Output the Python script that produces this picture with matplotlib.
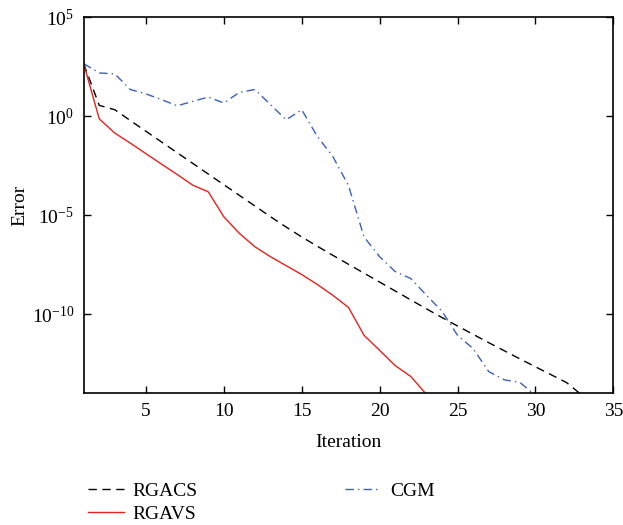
import numpy as np
import matplotlib
matplotlib.use("Agg")
import matplotlib.pyplot as plt
from matplotlib.ticker import FixedLocator, NullLocator

plt.rcParams['font.family'] = ['Liberation Serif', 'DejaVu Serif']
plt.rcParams['mathtext.fontset'] = 'custom'
plt.rcParams['mathtext.rm'] = 'Liberation Serif'
plt.rcParams['mathtext.it'] = 'Liberation Serif:italic'

# log10 of error per iteration
rgacs_iter = list(range(1, 34))
rgacs_log = [2.66, 0.55, 0.33, -0.22, -0.76, -1.30, -1.84, -2.38, -2.92, -3.46,
             -4.00, -4.54, -5.08, -5.60, -6.10, -6.57, -7.03, -7.48, -7.93, -8.38,
             -8.83, -9.28, -9.73, -10.17, -10.60, -11.02, -11.44, -11.85, -12.26,
             -12.66, -13.06, -13.46, -14.10]

rgavs_iter = list(range(1, 24))
rgavs_log = [2.66, -0.13, -0.85, -1.36, -1.89, -2.42, -2.94, -3.48, -3.82, -5.08,
             -5.92, -6.60, -7.10, -7.55, -8.00, -8.50, -9.05, -9.66, -11.07, -11.83,
             -12.60, -13.15, -14.05]

cgm_iter = list(range(1, 31))
cgm_log = [2.66, 2.19, 2.14, 1.35, 1.13, 0.84, 0.53, 0.75, 0.97, 0.67,
           1.21, 1.35, 0.58, -0.18, 0.33, -1.02, -2.04, -3.50, -6.10, -7.10,
           -7.85, -8.20, -9.04, -9.85, -11.07, -11.74, -12.90, -13.32, -13.45, -14.10]

labels = ['RGACS', 'RGAVS', 'CGM']
yticks = [1e5, 1e0, 1e-5, 1e-10]
xticks = [5, 10, 15, 20, 25, 30, 35]

fig = plt.figure(figsize=(6.23, 5.25), dpi=100)
ax = fig.add_axes([0.1343, 0.2509, 0.8501, 0.7161])

ax.plot(rgacs_iter, 10.0 ** np.array(rgacs_log), color='black', ls=(0, (6, 4)),
        lw=1.0, label=labels[0])
ax.plot(rgavs_iter, 10.0 ** np.array(rgavs_log), color='#e8201c', ls='-',
        lw=1.0, label=labels[1])
ax.plot(cgm_iter, 10.0 ** np.array(cgm_log), color='#3b5fbf', ls=(0, (6, 3, 1, 3)),
        lw=1.0, label=labels[2])

ax.set_yscale('log')
ax.set_xlim(1, 35)
ax.set_ylim(1e-14, 1e5)
ax.yaxis.set_major_locator(FixedLocator(yticks))
ax.yaxis.set_minor_locator(NullLocator())
ax.set_xticks(xticks)
ax.tick_params(direction='in', length=5, width=1, top=True, right=True,
               labelsize=14, pad=7)
for s in ax.spines.values():
    s.set_linewidth(1.2)

ax.set_xlabel('Iteration', fontsize=14, labelpad=10)
ax.set_ylabel('Error', fontsize=14, labelpad=2)

fig.legend(loc='upper left', bbox_to_anchor=(0.125, 0.1), ncol=2,
           frameon=False, fontsize=14, handlelength=1.85, handletextpad=0.45,
           columnspacing=7.6, labelspacing=0.3, borderpad=0)

fig.savefig('out.png', dpi=100)
